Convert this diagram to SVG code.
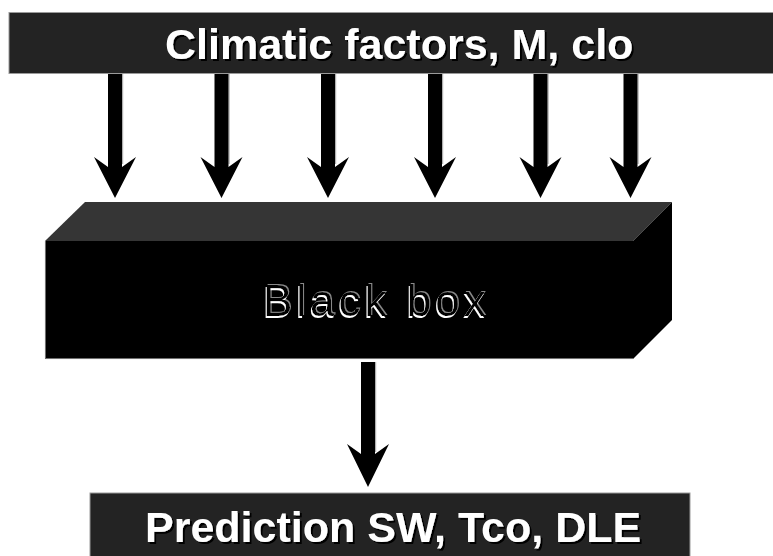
<svg xmlns="http://www.w3.org/2000/svg" width="773" height="556" viewBox="0 0 773 556">
  <defs>
    <style>
      .bar { fill: #232323; stroke: #9a9a9a; stroke-width: 1; }
      .lbl { font-family: "Liberation Sans", Arial, sans-serif; font-weight: bold; font-size: 43px; fill: #ffffff; filter: url(#shadow); }
      .bb { font-family: "Liberation Sans", Arial, sans-serif; font-size: 44px; letter-spacing: 4px; fill: #000000; filter: url(#emboss); }
      .arrow { fill: #000000; }
      .arrow-sh { fill: #b0b0b0; }
    </style>
    <filter id="shadow" x="-5%" y="-20%" width="110%" height="140%">
      <feOffset in="SourceAlpha" dx="2" dy="2" result="off"/>
      <feMerge>
        <feMergeNode in="off"/>
        <feMergeNode in="SourceGraphic"/>
      </feMerge>
    </filter>
    <filter id="emboss" x="-5%" y="-20%" width="110%" height="140%">
      <feFlood flood-color="#ffffff" result="white"/>
      <feOffset in="SourceAlpha" dx="-1.5" dy="1.5" result="o1"/>
      <feComposite in="white" in2="o1" operator="in" result="hi"/>
      <feFlood flood-color="#8a8a8a" result="gray"/>
      <feOffset in="SourceAlpha" dx="1.2" dy="-0.8" result="o2"/>
      <feComposite in="gray" in2="o2" operator="in" result="lo"/>
      <feMerge>
        <feMergeNode in="lo"/>
        <feMergeNode in="hi"/>
        <feMergeNode in="SourceGraphic"/>
      </feMerge>
    </filter>
  </defs>
  <rect x="0" y="0" width="773" height="556" fill="#ffffff"/>

  <g id="node-inputs">
    <rect class="bar" x="9" y="12.5" width="770" height="61"/>
    <text class="lbl" x="165" y="59">Climatic factors, M, clo</text>
  </g>

  <g id="node-blackbox">
    <polygon points="45,241 85,202 672,202 633,241" fill="#353535"/>
    <rect x="45" y="241" width="588" height="118" fill="#000000"/>
    <path d="M45.4,241 V358.6 H633" fill="none" stroke="#9a9a9a" stroke-width="0.8"/>
    <polygon points="633,241 672,202 672,320 633,359" fill="#000000"/>
    <text class="bb" x="263" y="316">Black box</text>
  </g>

  <g id="node-output">
    <rect class="bar" x="90" y="493" width="600" height="70"/>
    <text class="lbl" x="145" y="542">Prediction SW, Tco, DLE</text>
  </g>

  <g id="connectors">
    <g transform="translate(115,0)">
      <rect class="arrow-sh" x="7" y="74" width="1.2" height="90"/>
      <polygon class="arrow" points="-7,74 7,74 7,167 21,157 0,198 -21,157 -7,167"/>
    </g>
    <g transform="translate(221.5,0)">
      <rect class="arrow-sh" x="7" y="74" width="1.2" height="90"/>
      <polygon class="arrow" points="-7,74 7,74 7,167 21,157 0,198 -21,157 -7,167"/>
    </g>
    <g transform="translate(328,0)">
      <rect class="arrow-sh" x="7" y="74" width="1.2" height="90"/>
      <polygon class="arrow" points="-7,74 7,74 7,167 21,157 0,198 -21,157 -7,167"/>
    </g>
    <g transform="translate(435,0)">
      <rect class="arrow-sh" x="7" y="74" width="1.2" height="90"/>
      <polygon class="arrow" points="-7,74 7,74 7,167 21,157 0,198 -21,157 -7,167"/>
    </g>
    <g transform="translate(540.5,0)">
      <rect class="arrow-sh" x="7" y="74" width="1.2" height="90"/>
      <polygon class="arrow" points="-7,74 7,74 7,167 21,157 0,198 -21,157 -7,167"/>
    </g>
    <g transform="translate(630.5,0)">
      <rect class="arrow-sh" x="7" y="74" width="1.2" height="90"/>
      <polygon class="arrow" points="-7,74 7,74 7,167 21,157 0,198 -21,157 -7,167"/>
    </g>
    <g transform="translate(368,0)">
      <rect class="arrow-sh" x="7" y="362" width="1.2" height="90"/>
      <polygon class="arrow" points="-7,362 7,362 7,454 21,444 0,487 -21,444 -7,454"/>
    </g>
  </g>
</svg>
